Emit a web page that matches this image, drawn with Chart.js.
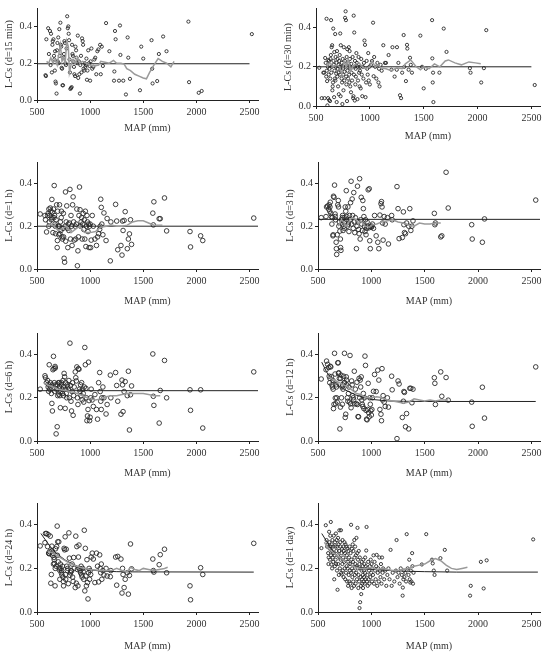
<!DOCTYPE html>
<html>
<head>
<meta charset="utf-8">
<title>L-Cs vs MAP</title>
<script src="https://cdn.jsdelivr.net/npm/chart.js@4.4.1/dist/chart.umd.min.js"></script>
<style>
  html, body { margin: 0; padding: 0; background: #fff; }
  body { width: 546px; height: 652px; position: relative; overflow: hidden; }
  canvas { position: absolute; }
</style>
</head>
<body>
<canvas id="p1"></canvas>
<canvas id="p2"></canvas>
<canvas id="p3"></canvas>
<canvas id="p4"></canvas>
<canvas id="p5"></canvas>
<canvas id="p6"></canvas>
<canvas id="p7"></canvas>
<canvas id="p8"></canvas>
<script>
/* ── Data ───────────────────────────────────────────────── */

/* axis ticks */
var xTicks = [500, 1000, 1500, 2000, 2500];
var yTicks = [0.0, 0.2, 0.4];

/* sub-hourly and daily panels: [MAP, L-Cs] */
var pts15min = [
  [580,.135],[584,.13],[588,.33],[605,.39],[612,.25],[622,.375],[628,.19],[632,.36],[640,.15],[645,.30],
  [648,.32],[655,.33],[660,.24],[664,.22],[668,.16],[670,.265],[674,.10],[678,.09],[684,.035],[688,.27],
  [692,.31],[695,.21],[700,.34],[704,.20],[710,.385],[714,.24],[720,.42],[724,.30],[728,.29],[732,.175],
  [736,.17],[740,.08],[745,.08],[750,.23],[754,.25],[758,.32],[762,.31],[768,.20],[772,.19],[778,.28],
  [784,.455],[790,.39],[795,.40],[798,.36],[802,.325],[806,.22],[810,.15],[814,.06],[820,.065],[826,.07],
  [830,.30],[834,.25],[838,.24],[842,.21],[848,.18],[852,.14],[858,.13],[862,.29],[868,.27],[872,.23],
  [878,.20],[884,.35],[888,.12],[894,.21],[898,.14],[904,.035],[908,.19],[914,.24],[918,.15],[924,.335],
  [930,.32],[934,.30],[938,.17],[944,.16],[950,.20],[955,.18],[960,.19],[965,.225],[970,.11],[975,.16],
  [982,.27],[990,.20],[995,.185],[1000,.105],[1005,.21],[1012,.28],[1020,.17],[1030,.18],[1040,.22],[1048,.23],
  [1058,.14],[1068,.265],[1078,.275],[1094,.30],[1100,.14],[1110,.29],[1120,.185],
  [1150,.418],[1181,.265],[1225,.105],[1228,.155],[1234,.375],[1240,.33],[1272,.105],[1281,.405],[1285,.245],[1312,.105],
  [1337,.03],[1353,.34],[1359,.23],[1375,.115],[1469,.053],[1481,.29],[1500,.225],[1578,.325],[1584,.17],[1588,.09],
  [1631,.103],[1647,.25],[1687,.345],[1719,.265],[1925,.426],[1931,.097],[2022,.039],[2050,.049],[2522,.358]
];

var pts30min = [
  [530,.195],[553,.04],[568,.17],[575,.17],[580,.04],[585,.245],[590,.22],[595,.15],[598,.445],[600,.18],
  [603,.127],[606,.003],[610,.2],[612,.04],[615,.235],[618,.16],[620,.23],[622,.03],[625,.19],[628,.21],
  [630,.025],[632,.14],[635,.24],[638,.26],[640,.438],[642,.17],[645,.3],[648,.2],[650,.31],[652,.08],
  [655,.1],[658,.12],[660,.395],[662,.23],[665,.21],[668,.045],[670,.275],[672,.18],[675,.14],[678,.367],
  [680,.13],[682,.25],[685,.2],[688,.165],[690,.22],[692,.02],[695,.28],[698,.15],[700,.24],[702,.19],
  [705,.1],[708,.21],[710,.17],[712,.06],[715,.23],[718,.2],[720,.26],[722,.16],[725,.37],[728,.05],
  [730,.31],[732,.2],[735,.18],[738,.14],[740,.22],[742,.12],[745,.01],[748,.24],[750,.19],[752,.16],
  [755,.08],[758,.3],[760,.21],[762,.13],[765,.175],[768,.23],[770,.45],[772,.2],[775,.483],[778,.438],
  [780,.15],[782,.11],[785,.25],[788,.025],[790,.29],[792,.18],[795,.2],[798,.14],[800,.22],[805,.3],
  [808,.16],[810,.12],[812,.28],[815,.24],[818,.1],[820,.19],[822,.2],[825,.07],[828,.215],[830,.17],
  [835,.13],[840,.25],[845,.04],[848,.05],[850,.461],[852,.16],[855,.375],[858,.2],[860,.028],[862,.23],
  [865,.11],[868,.19],[870,.15],[875,.27],[880,.22],[885,.035],[888,.2],[890,.13],[895,.25],[900,.17],
  [905,.1],[908,.18],[910,.2],[915,.09],[920,.24],[925,.16],[930,.05],[935,.2],[940,.14],[945,.22],
  [950,.334],[955,.312],[960,.045],[965,.12],[970,.23],[975,.19],[980,.16],[985,.27],[990,.13],[995,.2],
  [1000,.11],[1010,.21],[1020,.23],[1030,.425],[1035,.152],[1040,.25],[1050,.2],[1060,.14],[1070,.22],[1080,.12],
  [1085,.19],[1090,.1],[1100,.21],[1110,.18],[1125,.31],[1140,.22],[1150,.22],[1174,.26],[1200,.185],[1210,.3],
  [1230,.15],[1250,.185],[1252,.3],[1265,.22],[1280,.055],[1290,.04],[1300,.17],[1314,.362],[1320,.2],[1335,.127],
  [1345,.312],[1348,.293],[1360,.185],[1373,.246],[1380,.21],[1391,.17],[1469,.359],[1485,.2],[1500,.09],[1520,.19],
  [1578,.438],[1580,.243],[1584,.12],[1587,.17],[1590,.02],[1646,.17],[1686,.395],[1712,.276],[1929,.193],[1935,.17],
  [2034,.12],[2059,.193],[2081,.387],[2531,.107]
];

var pts1day = [
  [532,.293],[573,.398],[580,.33],[585,.3],[590,.31],[595,.27],[598,.22],[600,.25],[604,.368],[606,.32],
  [610,.29],[612,.24],[615,.35],[618,.3],[620,.413],[622,.26],[625,.218],[628,.28],[630,.31],[632,.2],
  [635,.33],[638,.25],[640,.3],[642,.23],[645,.27],[648,.35],[652,.15],[655,.26],[658,.21],[660,.32],
  [662,.3],[665,.24],[668,.36],[670,.22],[672,.28],[675,.33],[678,.19],[680,.3],[683,.102],[686,.26],
  [688,.34],[690,.22],[692,.31],[695,.17],[698,.28],[700,.375],[702,.25],[705,.2],[708,.32],[710,.3],
  [712,.24],[715,.375],[718,.18],[720,.27],[722,.172],
  [725,.29],[728,.22],[730,.33],[732,.19],[735,.25],[738,.3],[740,.16],[742,.28],[745,.23],[748,.32],
  [750,.2],[752,.27],[755,.15],[758,.31],[760,.24],[762,.18],[765,.3],[768,.21],[770,.26],[772,.14],
  [775,.29],[778,.2],[780,.23],[782,.12],[785,.28],[788,.17],[790,.25],[792,.14],[795,.3],[798,.19],
  [800,.22],[802,.13],[805,.27],[808,.18],[810,.4],[812,.24],[815,.11],[818,.29],[820,.2],[822,.16],
  [825,.31],[828,.23],[830,.14],[832,.28],[835,.19],[838,.12],[840,.33],[842,.25],[845,.17],[848,.3],
  [850,.22],[852,.13],[855,.26],[858,.18],[860,.34],[862,.21],[865,.15],[868,.27],[870,.386],[872,.2],
  [875,.24],[878,.11],[880,.17],[882,.28],[885,.14],[888,.22],[889,.018],[892,.25],[895,.045],[898,.16],
  [900,.2],[902,.12],[905,.082],[908,.19],[910,.23],[912,.15],[915,.13],[918,.21],[920,.17],[922,.11],
  [925,.24],[928,.14],[930,.19],[932,.16],[935,.22],[938,.13],[940,.18],[942,.25],[945,.15],[948,.21],
  [952,.282],[955,.39],[958,.14],[960,.2],[963,.17],[966,.12],[970,.23],[974,.15],[978,.19],[982,.13],
  [986,.21],[990,.16],[994,.24],[998,.18],
  [1002,.22],[1006,.14],[1010,.2],[1015,.17],[1020,.26],[1025,.13],[1030,.23],[1035,.19],[1040,.15],[1045,.21],
  [1050,.262],[1055,.12],[1060,.18],[1065,.2],[1070,.14],[1075,.25],[1080,.19],[1085,.16],[1090,.22],[1095,.13],
  [1100,.25],[1105,.18],[1110,.2],[1120,.15],[1130,.19],[1140,.12],[1150,.17],
  [1160,.2],[1170,.15],[1180,.285],[1190,.12],[1200,.18],[1215,.14],[1230,.19],[1236,.33],[1245,.16],[1255,.18],
  [1265,.13],[1275,.2],[1285,.17],[1293,.075],[1295,.112],[1300,.15],[1305,.19],[1310,.16],[1318,.18],[1325,.14],
  [1331,.357],[1340,.2],[1348,.17],[1355,.24],[1360,.15],[1365,.135],[1370,.19],[1375,.14],[1382,.27],[1385,.21],
  [1390,.13],[1395,.18],
  [1473,.218],[1514,.357],[1568,.24],[1575,.223],[1585,.19],[1592,.17],[1647,.247],[1688,.285],[1710,.19],[1925,.075],
  [1931,.12],[2026,.23],[2052,.108],[2080,.237],[2516,.333]
];

/* hourly panels share the station list */
var mapHourly = [
  530, 575, 580, 590, 600, 605, 610, 612, 615, 620,
  625, 630, 635, 640, 642, 645, 650, 655, 660, 662,
  665, 670, 672, 675, 680, 685, 690, 692, 695, 700,
  705, 710, 712, 715, 720, 725, 728, 730, 735, 740,
  745, 748, 750, 755, 760, 765, 768, 770, 775, 780,
  785, 790, 795, 800, 805, 810, 815, 820, 825, 830,
  835, 840, 845, 850,
  860, 865, 870, 875, 880, 885, 890, 895, 900, 905,
  910, 915, 920, 925, 930, 935, 940, 945, 950, 955,
  960, 965, 970, 975, 980, 985, 990, 995, 1000,
  1005, 1010, 1020, 1030, 1045, 1060, 1070, 1080, 1090, 1095,
  1100, 1105, 1110, 1120, 1130, 1150,
  1160, 1190, 1195, 1240, 1250, 1260, 1290, 1300, 1305, 1310,
  1320, 1330, 1350, 1360, 1370, 1380, 1390,
  1590, 1595, 1600, 1650, 1660, 1700, 1720, 1940, 1945, 2040,
  2060, 2540
];

var cs1h = [
  .257, .25, .23, .173, .25, .26, .2, .28, .22, .25,
  .285, .27, .23, .325, .24, .265, .17, .28, .24, .39,
  .25, .21, .2, .165, .23, .3, .1, .133, .27, .2,
  .16, .2, .3, .165, .22, .18, .24, .27, .15, .14,
  .19, .26, .15, .05, .032, .2, .36, .13, .22, .295,
  .19, .1, .21, .18, .215, .372, .14, .25, .2, .11,
  .3, .337, .22, .135,
  .2, .14, .21, .28, .015, .085, .15, .25, .383, .277,
  .2, .22, .24, .14, .21, .26, .185, .23, .14, .27,
  .105, .2, .25, .22, .175, .21, .1, .2, .21,
  .1, .135, .25, .2, .14, .11, .15, .165, .185, .2,
  .326, .288, .21, .16, .262, .133,
  .236, .038, .22, .302, .224, .09, .11, .065, .224, .18,
  .227, .268, .095, .14, .164, .23, .115,
  .261, .206, .314, .235, .235, .332, .178, .175, .103, .155,
  .133, .238
];

var cs3h = [
  .24, .245, .29, .294, .28, .3, .27, .29, .312, .26,
  .245, .21, .24, .155, .16, .34, .335, .392, .257, .245,
  .23, .125, .095, .068, .16, .3, .32, .29, .2, .22,
  .177, .14, .1, .087, .23, .21, .24, .25, .18, .2,
  .24, .22, .19, .29, .27, .366, .23, .245, .2, .29,
  .21, .175, .25, .23, .31, .41, .21, .327, .25, .19,
  .357, .22, .17, .24,
  .095, .2, .387, .22, .185, .165, .422, .14, .23, .335,
  .21, .18, .32, .282, .245, .2, .175, .23, .16, .19,
  .22, .2, .37, .192, .375, .132, .095, .2, .195,
  .2, .21, .19, .25, .155, .125, .095, .252, .305, .315,
  .29, .215, .135, .245, .21, .24,
  .117, .25, .23, .385, .282, .142, .147, .267, .207, .17,
  .165, .215, .2, .282, .18, .2, .225,
  .26, .207, .215, .15, .155, .452, .285, .207, .14, .125,
  .234, .322
];

var cs6h = [
  .24, .302, .293, .27, .28, .25, .23, .26, .353, .24,
  .27, .25, .22, .174, .26, .139, .33, .392, .335, .27,
  .23, .345, .338, .26, .033, .24, .066, .26, .21, .27,
  .217, .27, .25, .21, .154, .23, .26, .27, .24, .22,
  .28, .25, .21, .313, .297, .151, .24, .27, .22, .2,
  .26, .25, .24, .28, .2, .453, .257, .184, .139, .229,
  .27, .119, .21, .25,
  .32, .293, .278, .343, .2, .169, .335, .332, .24, .23,
  .26, .21, .27, .19, .24, .22, .18, .25, .433, .353,
  .244, .2, .094, .116, .146, .365, .187, .094, .11,
  .2, .24, .19, .16, .215, .146, .101, .27, .317, .229,
  .184, .146, .2, .25, .2, .125,
  .169, .305, .2, .317, .257, .184, .124, .282, .26, .136,
  .229, .275, .21, .323, .051, .214, .255,
  .403, .207, .165, .083, .234, .373, .2, .237, .142, .237,
  .06, .32
];

var cs12h = [
  .287, .33, .37, .355, .34, .3, .27, .29, .346, .343,
  .298, .26, .25, .28, .24, .15, .17, .406, .31, .199,
  .172, .26, .25, .2, .18, .362, .362, .313, .316, .29,
  .056, .157, .29, .305, .2, .25, .17, .26, .24, .3,
  .27, .406, .27, .109, .124, .297, .282, .26, .2, .184,
  .22, .25, .18, .396, .172, .154, .278, .26, .21, .2,
  .19, .323, .172, .24,
  .172, .272, .169, .113, .112, .29, .2, .282, .25, .297,
  .19, .17, .16, .22, .15, .2, .393, .35, .142, .101,
  .098, .146, .267, .131, .112, .2, .17, .14, .12,
  .146, .2, .23, .308, .229, .328, .282, .146, .124, .094,
  .335, .19, .21, .18, .16, .2,
  .157, .3, .237, .011, .278, .264, .109, .184, .229, .225,
  .066, .127, .056, .244, .244, .177, .24,
  .293, .267, .169, .32, .207, .294, .189, .18, .068, .249,
  .106, .343
];

var cs24h = [
  .303, .318, .36, .36, .3, .355, .27, .27, .267, .277,
  .348, .132, .172, .302, .28, .26, .27, .22, .25, .24,
  .222, .12, .2, .29, .21, .3, .394, .26, .322, .23,
  .322, .202, .192, .15, .22, .2, .18, .19, .17, .21,
  .16, .14, .12, .292, .285, .345, .172, .15, .288, .21,
  .19, .2, .13, .363, .247, .168, .18, .19, .188, .22,
  .16, .14, .25, .2,
  .112, .348, .132, .3, .195, .12, .252, .307, .2, .19,
  .18, .21, .17, .16, .2, .185, .15, .375, .097, .292,
  .165, .12, .24, .135, .06, .18, .2, .15, .19,
  .172, .252, .27, .243, .135, .27, .21, .138, .262, .2,
  .18, .22, .15, .19, .17, .2,
  .165, .162, .19, .252, .123, .255, .243, .087, .2, .172,
  .112, .15, .18, .082, .168, .312, .198,
  .243, .19, .183, .217, .263, .288, .18, .12, .056, .203,
  .172, .315
];

/* regional L-Cs (black) */
var ref15min = [[500,.197],[2500,.197]];
var ref30min = [[500,.2],[2500,.2]];
var ref1h = [[500,.2],[2580,.2]];
var ref3h = [[500,.232],[2580,.232]];
var ref6h = [[500,.233],[2580,.233]];
var ref12h = [[535,.365],[580,.32],[620,.29],[660,.27],[700,.253],[750,.238],[794,.227],[850,.214],
  [889,.207],[950,.198],[1015,.192],[1100,.188],[1173,.185],[1300,.184],[1500,.183],[2540,.183]];
var ref24h = [[537,.36],[580,.33],[625,.3],[670,.275],[719,.255],[770,.237],[829,.222],[880,.21],
  [938,.2],[1010,.193],[1095,.188],[1251,.185],[1400,.184],[2540,.183]];
var ref1day = [[535,.36],[580,.325],[620,.293],[660,.268],[700,.248],[750,.232],[794,.218],[850,.209],
  [905,.203],[1015,.195],[1173,.19],[1331,.187],[1500,.185],[1800,.183],[2560,.183]];

/* moving average (grey) */
var ma15min = [[590,.21],[610,.2],[630,.23],[650,.2],[670,.22],[690,.19],[705,.25],[720,.3],[735,.21],[750,.23],
  [765,.2],[780,.32],[795,.29],[805,.15],[820,.19],[840,.22],[860,.2],[880,.23],[900,.2],[930,.21],
  [960,.2],[1000,.19],[1040,.185],[1080,.19],[1100,.21],[1140,.205],[1180,.2],[1220,.215],[1250,.2],[1290,.2],
  [1320,.195],[1345,.17],[1380,.16],[1420,.14],[1460,.13],[1500,.12],[1530,.115],[1560,.15],[1600,.19],[1640,.225],
  [1680,.21],[1720,.2],[1760,.18],[1790,.21]];
var ma30min = [[600,.2],[630,.22],[660,.2],[690,.21],[720,.2],[740,.16],[760,.23],[780,.2],[800,.24],[820,.18],
  [840,.2],[870,.215],[900,.22],[930,.2],[960,.19],[1000,.2],[1020,.23],[1050,.2],[1080,.21],[1100,.195],
  [1150,.19],[1200,.18],[1250,.195],[1300,.19],[1330,.215],[1380,.235],[1430,.2],[1470,.185],[1500,.2],[1550,.19],
  [1600,.215],[1650,.2],[1700,.23],[1730,.235],[1790,.22],[1850,.21],[1920,.225],[1980,.22],[2030,.215]];
var ma1h = [[590,.2],[620,.21],[660,.2],[700,.18],[740,.19],[780,.2],[820,.17],[860,.185],[900,.2],[950,.17],
  [1000,.17],[1050,.175],[1100,.195],[1150,.2],[1200,.205],[1250,.2],[1300,.2],[1350,.205],[1400,.22],[1450,.225],
  [1500,.225],[1550,.215],[1600,.205],[1650,.205],[1680,.205]];
var ma3h = [[690,.2],[720,.23],[740,.22],[760,.2],[780,.21],[800,.23],[820,.24],[840,.235],[860,.23],[880,.21],
  [900,.225],[940,.2],[980,.195],[1000,.205],[1050,.21],[1100,.22],[1150,.225],[1200,.23],[1250,.22],[1300,.215],
  [1350,.205],[1400,.2],[1450,.215],[1500,.21],[1550,.21],[1600,.215],[1650,.215]];
var ma6h = [[560,.27],[600,.26],[650,.25],[700,.24],[750,.235],[800,.23],[850,.225],[900,.215],[950,.205],[1000,.195],
  [1050,.19],[1100,.195],[1150,.205],[1200,.21],[1250,.21],[1300,.215],[1350,.22],[1400,.22],[1450,.22],[1500,.22],
  [1550,.215],[1600,.21],[1660,.21]];
var ma12h = [[590,.3],[620,.29],[660,.28],[700,.27],[740,.26],[780,.25],[820,.235],[860,.22],[900,.215],[950,.2],
  [1000,.2],[1050,.205],[1100,.2],[1150,.19],[1200,.185],[1250,.18],[1300,.175],[1350,.18],[1400,.195],[1450,.19],
  [1500,.185],[1550,.19],[1600,.185],[1650,.19],[1720,.19]];
var ma24h = [[600,.28],[650,.27],[700,.255],[750,.24],[800,.225],[850,.215],[900,.205],[950,.2],[1000,.195],[1100,.19],
  [1200,.19],[1250,.2],[1300,.19],[1350,.185],[1380,.205],[1420,.195],[1460,.19],[1500,.2],[1550,.195],[1600,.19],
  [1650,.195],[1700,.2],[1730,.205]];
var ma1day = [[560,.32],[600,.29],[650,.27],[700,.25],[750,.235],[800,.22],[850,.205],[900,.2],[950,.2],[1000,.205],
  [1050,.195],[1100,.2],[1150,.195],[1200,.19],[1250,.19],[1300,.195],[1350,.2],[1400,.21],[1450,.215],[1500,.22],
  [1550,.235],[1600,.245],[1650,.235],[1700,.215],[1750,.2],[1800,.195],[1850,.2],[1900,.205]];

/* ── Helpers ────────────────────────────────────────────── */

function fromPairs(arr) {
  return arr.map(function (d) { return { x: d[0], y: d[1] }; });
}

function fromColumns(xs, ys) {
  var out = [];
  for (var i = 0; i < xs.length && i < ys.length; i++) out.push({ x: xs[i], y: ys[i] });
  return out;
}

/* ── Panels ─────────────────────────────────────────────── */

var serif = "'Liberation Serif', 'Times New Roman', serif";
var inkColor = '#222';
var textColor = '#333';
var greyColor = '#9a9a9a';

var panels = [
  { id: 'p1', label: 'L-Cs (d=15 min)', pts: fromPairs(pts15min), ref: ref15min, ma: ma15min, r: 1.6,
    box: { L: 37, R: 258, T: 5, B: 100, gap: 28, wy: 37 } },
  { id: 'p2', label: 'L-Cs (d=30 min)', pts: fromPairs(pts30min), ref: ref30min, ma: ma30min, r: 1.6,
    box: { L: 316, R: 540, T: 5, B: 106, gap: 30, wy: 38 } },
  { id: 'p3', label: 'L-Cs (d=1 h)', pts: fromColumns(mapHourly, cs1h), ref: ref1h, ma: ma1h, r: 2.3,
    box: { L: 37, R: 258, T: 159, B: 269, gap: 32, wy: 37 } },
  { id: 'p4', label: 'L-Cs (d=3 h)', pts: fromColumns(mapHourly, cs3h), ref: ref3h, ma: ma3h, r: 2.3,
    box: { L: 318, R: 540, T: 159, B: 269, gap: 32, wy: 40 } },
  { id: 'p5', label: 'L-Cs (d=6 h)', pts: fromColumns(mapHourly, cs6h), ref: ref6h, ma: ma6h, r: 2.3,
    box: { L: 37, R: 258, T: 330, B: 441, gap: 32, wy: 37 } },
  { id: 'p6', label: 'L-Cs (d=12 h)', pts: fromColumns(mapHourly, cs12h), ref: ref12h, ma: ma12h, r: 2.3,
    box: { L: 318, R: 540, T: 330, B: 441, gap: 32, wy: 40 } },
  { id: 'p7', label: 'L-Cs (d=24 h)', pts: fromColumns(mapHourly, cs24h), ref: ref24h, ma: ma24h, r: 2.3,
    box: { L: 37, R: 258, T: 500, B: 612, gap: 34, wy: 37 } },
  { id: 'p8', label: 'L-Cs (d=1 day)', pts: fromPairs(pts1day), ref: ref1day, ma: ma1day, r: 1.6,
    box: { L: 318, R: 540, T: 500, B: 612, gap: 34, wy: 40 } }
];

function makePanel(p) {
  var b = p.box;
  var padT = 5, padR = 5, hx = 40;
  var w = b.wy + (b.R - b.L) + padR;
  var h = padT + (b.B - b.T) + hx;
  var canvas = document.getElementById(p.id);
  canvas.width = w;
  canvas.height = h;
  canvas.style.width = w + 'px';
  canvas.style.height = h + 'px';
  canvas.style.left = (b.L - b.wy) + 'px';
  canvas.style.top = (b.T - padT) + 'px';

  var tickFont = { family: serif, size: 10 };
  var titleFont = { family: serif, size: 10 };

  new Chart(canvas, {
    type: 'scatter',
    data: {
      datasets: [
        {
          data: fromPairs(p.ma),
          showLine: true,
          borderColor: greyColor,
          borderWidth: 1.5,
          pointRadius: 0,
          fill: false
        },
        {
          data: fromPairs(p.ref),
          showLine: true,
          borderColor: inkColor,
          borderWidth: 1,
          pointRadius: 0,
          fill: false
        },
        {
          data: p.pts,
          pointStyle: 'circle',
          pointRadius: p.r,
          pointBorderWidth: 0.9,
          pointBorderColor: '#2a2a2a',
          pointBackgroundColor: 'rgba(255,255,255,0)'
        }
      ]
    },
    options: {
      responsive: false,
      animation: false,
      devicePixelRatio: 1,
      layout: { padding: { top: padT, right: padR, left: 0, bottom: 0 } },
      plugins: { legend: { display: false }, tooltip: { enabled: false } },
      scales: {
        x: {
          type: 'linear',
          position: 'bottom',
          min: 500,
          max: 2580,
          afterBuildTicks: function (s) {
            s.ticks = xTicks.map(function (v) { return { value: v }; });
          },
          afterFit: function (s) { s.height = hx; },
          border: { color: inkColor, width: 1 },
          grid: { drawOnChartArea: false, drawTicks: true, tickLength: 3, color: inkColor },
          ticks: {
            color: textColor,
            font: tickFont,
            padding: 3,
            maxRotation: 0,
            autoSkip: false,
            callback: function (v) { return String(v); }
          },
          title: {
            display: true,
            text: 'MAP (mm)',
            color: textColor,
            font: titleFont,
            padding: { top: 0, bottom: hx - b.gap - 6 }
          }
        },
        y: {
          min: 0,
          max: 0.5,
          afterBuildTicks: function (s) {
            s.ticks = yTicks.map(function (v) { return { value: v }; });
          },
          afterFit: function (s) { s.width = b.wy; },
          border: { color: inkColor, width: 1 },
          grid: { drawOnChartArea: false, drawTicks: true, tickLength: 3, color: inkColor },
          ticks: {
            color: textColor,
            font: tickFont,
            padding: 2,
            callback: function (v) { return v.toFixed(1); }
          },
          title: {
            display: true,
            text: p.label,
            color: textColor,
            font: titleFont,
            padding: { top: 3 + (b.wy - 37), bottom: 0 }
          }
        }
      }
    }
  });
}

panels.forEach(makePanel);
</script>
</body>
</html>
